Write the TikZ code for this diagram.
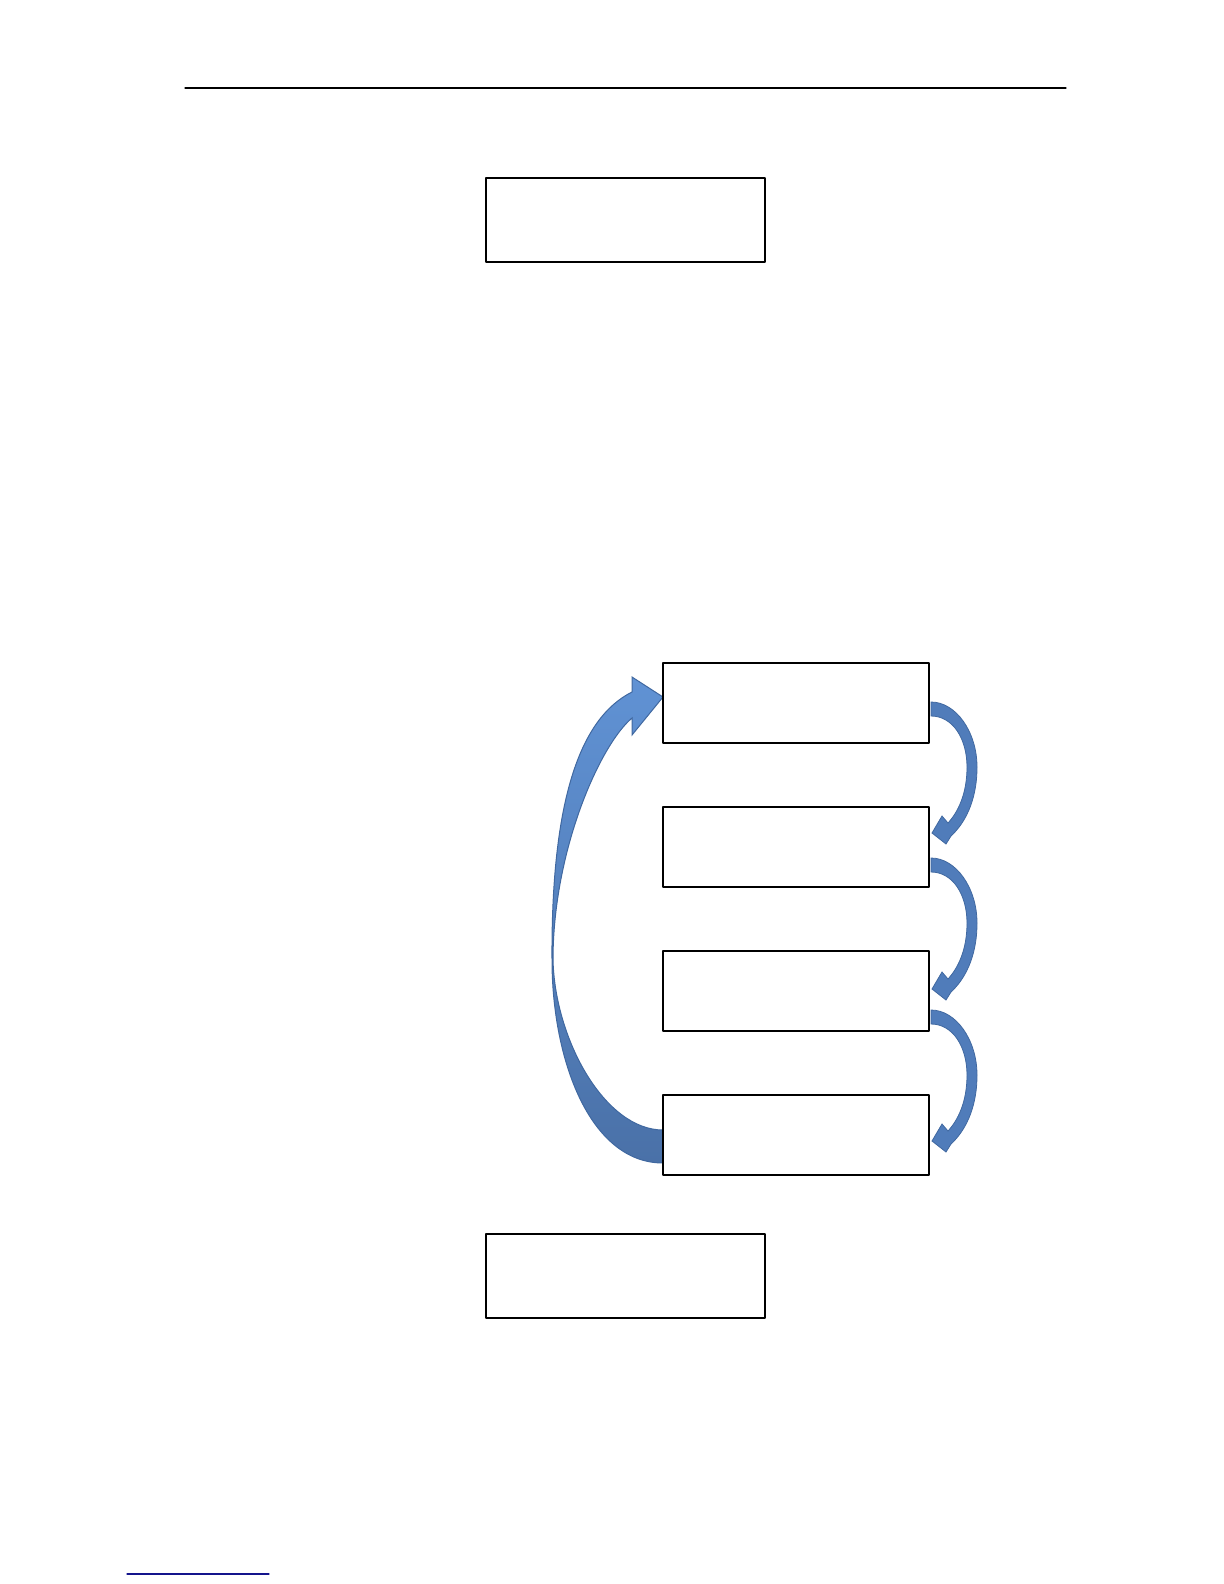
\documentclass[tikz,border=0pt]{standalone}
\usetikzlibrary{calc,backgrounds}
\definecolor{arrowlight}{RGB}{96,146,212}
\definecolor{arrowdark}{RGB}{74,113,168}
\definecolor{arrowedge}{RGB}{64,104,160}
\definecolor{smallblue}{RGB}{80,124,186}
\definecolor{linkblue}{RGB}{20,20,140}
\tikzset{
  box/.style={draw, line width=1pt, minimum width=133pt, minimum height=40pt, inner sep=0pt, outer sep=0pt},
  bigbox/.style={box, minimum width=139.5pt, minimum height=42pt},
  pics/bendarrow/.style={code={
    \filldraw[fill=smallblue, draw=arrowedge, line width=0.4pt]
      (0,0) .. controls (25,0) and (46,30) .. (46,65) .. controls (46,100) and (33,122) .. (20,134)
      -- (15,142) -- (1,131) -- (11,114) -- (17,121)
      .. controls (27,110) and (36,92) .. (36,65) .. controls (36,37) and (22,14) .. (0,14) -- cycle;
  }}
}
\begin{document}
\begin{tikzpicture}[x=0.5pt, y=-0.5pt, line join=round, line cap=round]
  \useasboundingbox (0,0) rectangle (1224,1584);
  \draw[line width=0.6pt] (185,88) -- (1066,88); % header rule
  \node[bigbox] (start) at (625.5,220) {};
  \node[box] (A) at (796,703) {};
  \node[box] (B) at (796,847) {};
  \node[box] (C) at (796,991) {};
  \node[box] (D) at (796,1135) {};
  \node[bigbox] (end) at (625.5,1276) {};
  \begin{scope}[on background layer]
    % loop back D -> A
    \shadedraw[top color=arrowlight, bottom color=arrowdark, draw=arrowedge, line width=0.5pt]
      ($(D.west)+(0,28)$) .. controls (590,1163) and (552,1060) .. (552,960)
      .. controls (551,800) and (580,718) .. (632,692) -- (632,677) -- ($(A.west)+(0,-6)$)
      -- (632,735) -- (632,718) .. controls (600,745) and (553,850) .. (553,960)
      .. controls (555,1040) and (605,1130) .. ($(D.west)+(0,-5)$) -- cycle;
    \foreach \n/\d in {A/-1,B/11,C/19}
      \pic at ($(\n.east)+(2,\d)$) {bendarrow};
  \end{scope}
  \draw[linkblue, line width=0.6pt] (127,1574) -- (269,1574);
\end{tikzpicture}
\end{document}
